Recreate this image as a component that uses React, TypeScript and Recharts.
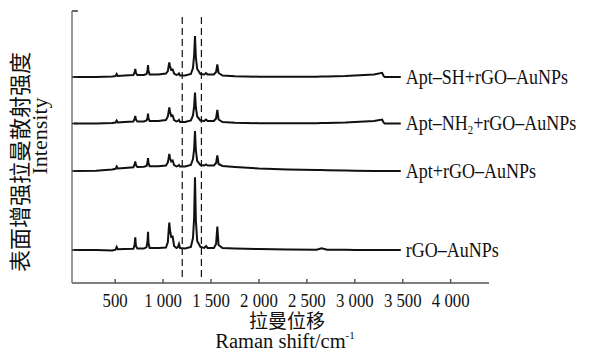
import { LineChart, Line, XAxis, YAxis, ReferenceLine, LabelList } from 'recharts';

// Raman shift positions (cm^-1) shared by all four spectra
const shifts = [
  70, 300, 470, 505, 516, 528, 600, 690, 703, 710, 717, 732, 800, 828, 838, 843, 848, 860,
  950, 1030, 1050, 1060, 1065, 1072, 1085, 1100, 1115, 1140, 1155, 1166, 1177, 1230, 1290,
  1312, 1324, 1333, 1342, 1356, 1390, 1430, 1448, 1465, 1530, 1553, 1566, 1579, 1620, 1750,
  2000, 2300, 2600, 2655, 2710, 2900, 3000, 3200, 3285, 3300, 3312, 3480,
];

// intensities (a.u.) above each spectrum's own baseline
const aptSH = [
  0, 0, 0.5, 1, 3, 1, 1.5, 2, 4.5, 8, 4, 2, 2, 3, 7, 12, 6, 2.5,
  2.5, 3.5, 6, 12, 14.5, 11, 7, 7.5, 3.5, 2, 2.5, 3.5, 1.5, 1.5, 3,
  9, 22, 41, 20, 8, 3, 2.5, 4, 2.5, 2.5, 5, 12.5, 4, 1.5, 0.8,
  0.3, 0.2, 0.3, 0.4, 0.5, 1, 1.5, 2.6, 4.2, 1, 0, 0,
];
const aptNH2 = [
  0, 0, 0.5, 1, 3, 1, 1.5, 2, 4.5, 7.5, 4, 2, 2, 3, 6, 10, 5, 2.5,
  2.5, 3.5, 7, 13, 16, 12, 7.5, 8, 3.5, 2, 2.5, 3.5, 1.5, 1.5, 3,
  8, 17, 31, 16, 7, 3, 2.5, 4, 2.5, 2.5, 5, 13.5, 4, 1.5, 0.8,
  0.3, 0.2, 0.3, 0.4, 0.5, 1, 1.5, 2.6, 4, 1, 0, 0,
];
const apt = [
  0, 0.3, 1.5, 2.2, 4.5, 2.5, 3, 3.8, 6.5, 9.5, 6, 4, 4.2, 5, 9, 13, 8, 4.8,
  4.8, 5.5, 8.5, 14, 17, 13, 9.5, 10.5, 6, 4.5, 5, 6, 4.5, 4.5, 6,
  12, 22, 40, 21, 10, 6, 5.5, 6.5, 5.5, 5.5, 8, 15.5, 7, 5, 4,
  2.5, 1.5, 1, 1, 0.8, 0.5, 0.2, 0, 0, 0, 0, 0,
];
const rgoAuNPs = [
  0, 0, -0.5, 0.3, 3, 0.8, 1, 1.3, 5, 12.7, 4, 1.5, 1.5, 3, 9, 18.3, 7, 2,
  2, 2.5, 8, 22, 27.5, 20, 13, 13.5, 4, 2, 3, 6, 2, 1.5, 3,
  12, 32, 72.7, 30, 9, 3, 2, 4, 2, 2, 6, 23.5, 5, 2, 1.5,
  1, 0.5, 0.3, 1.7, 0.3, 0.2, 0, 0, 0, 0, 0, 0,
];

const seriesKeys = ['aptSH', 'aptNH2', 'apt', 'rgoAuNPs'];
const seriesValues = [aptSH, aptNH2, apt, rgoAuNPs];
const seriesOffsets = [206, 159.5, 112, 33];

const xTicks = [500, 1000, 1500, 2000, 2500, 3000, 3500, 4000];
const xTickLabels = ['500', '1 000', '1 500', '2 000', '2 500', '3 000', '3 500', '4 000'];
const markers = [1200, 1400];

const data = shifts.map((shift, i) => {
  const row: Record<string, number> = { shift };
  seriesKeys.forEach((k, j) => {
    row[k] = seriesValues[j][i] + seriesOffsets[j];
  });
  return row;
});

const SERIF = 'Liberation Serif, Times New Roman, DejaVu Serif, serif';
const CJK = 'Noto Sans CJK SC, sans-serif';
const AXIS = '#555';

const XTick = (props: any) => {
  const { x, y, payload } = props;
  const label = xTickLabels[xTicks.indexOf(payload.value)];
  return (
    <g>
      <line x1={x} x2={x} y1={y} y2={y - 4} stroke={AXIS} strokeWidth={1.5} />
      <text
        transform={`translate(${x},${y + 24}) scale(0.86,1)`}
        textAnchor="middle"
        style={{ fontFamily: SERIF, fontSize: 19.5 }}
        fill="#111"
      >
        {label}
      </text>
    </g>
  );
};

const YTick = (props: any) => {
  const { x, y } = props;
  return <line x1={x} x2={x + 6} y1={y} y2={y} stroke="#222" strokeWidth={1.5} />;
};

const endLabel = (idx: number) => (props: any) => {
  const { x, y, index } = props;
  if (index !== shifts.length - 1) return null;
  return (
    <text
      transform={`translate(${x + 5},${y + 6.5}) scale(0.9,1)`}
      style={{ fontFamily: SERIF, fontSize: 20 }}
      fill="#111"
    >
      {idx === 0 && 'Apt–SH+rGO–AuNPs'}
      {idx === 1 && (
        <>
          Apt–NH
          <tspan fontSize={12} dy={4}>2</tspan>
          <tspan dy={-4}>+rGO–AuNPs</tspan>
        </>
      )}
      {idx === 2 && 'Apt+rGO–AuNPs'}
      {idx === 3 && 'rGO–AuNPs'}
    </text>
  );
};

export default function App() {
  return (
    <div style={{ position: 'absolute', left: 0, top: 0, width: 598, height: 355, background: '#fff' }}>
      <LineChart
        width={598}
        height={355}
        data={data}
        margin={{ top: 11, right: 109, bottom: 42, left: 62 }}
      >
        <XAxis
          dataKey="shift"
          type="number"
          domain={[50, 4400]}
          ticks={xTicks}
          allowDataOverflow
          height={30}
          tickSize={0}
          tickMargin={0}
          interval={0}
          tick={<XTick />}
          axisLine={{ stroke: AXIS, strokeWidth: 1.5 }}
        />
        <YAxis
          type="number"
          domain={[0, 272]}
          ticks={seriesOffsets}
          allowDataOverflow
          width={10}
          tickSize={0}
          tickMargin={0}
          interval={0}
          tick={<YTick />}
          axisLine={{ stroke: '#777', strokeWidth: 1.5 }}
        />
        <ReferenceLine
          segment={[{ x: 50, y: 272 }, { x: 112, y: 272 }]}
          stroke="#333"
          strokeWidth={1.5}
        />
        {markers.map((m) => (
          <ReferenceLine
            key={m}
            segment={[{ x: m, y: 6 }, { x: m, y: 266 }]}
            stroke="#111"
            strokeWidth={1.2}
            strokeDasharray="7 4"
          />
        ))}
        {seriesKeys.map((k, j) => (
          <Line
            key={k}
            dataKey={k}
            type="linear"
            stroke="#111"
            strokeWidth={2}
            dot={false}
            isAnimationActive={false}
          >
            <LabelList dataKey={k} content={endLabel(j)} />
          </Line>
        ))}
      </LineChart>
      <svg
        width={598}
        height={355}
        style={{ position: 'absolute', left: 0, top: 0, pointerEvents: 'none' }}
        fill="#111"
      >
        <text x={287} y={328} textAnchor="middle" style={{ fontFamily: CJK, fontSize: 19 }}>
          拉曼位移
        </text>
        <text x={285} y={348} textAnchor="middle" style={{ fontFamily: SERIF, fontSize: 20.5 }}>
          Raman shift/cm<tspan fontSize={11} dy={-9}>-1</tspan>
        </text>
        <text
          transform="translate(28,162) rotate(-90)"
          textAnchor="middle"
          style={{ fontFamily: CJK, fontSize: 22 }}
        >
          表面增强拉曼散射强度
        </text>
        <text
          transform="translate(47,136) rotate(-90)"
          textAnchor="middle"
          style={{ fontFamily: SERIF, fontSize: 22 }}
        >
          Intensity
        </text>
      </svg>
    </div>
  );
}
